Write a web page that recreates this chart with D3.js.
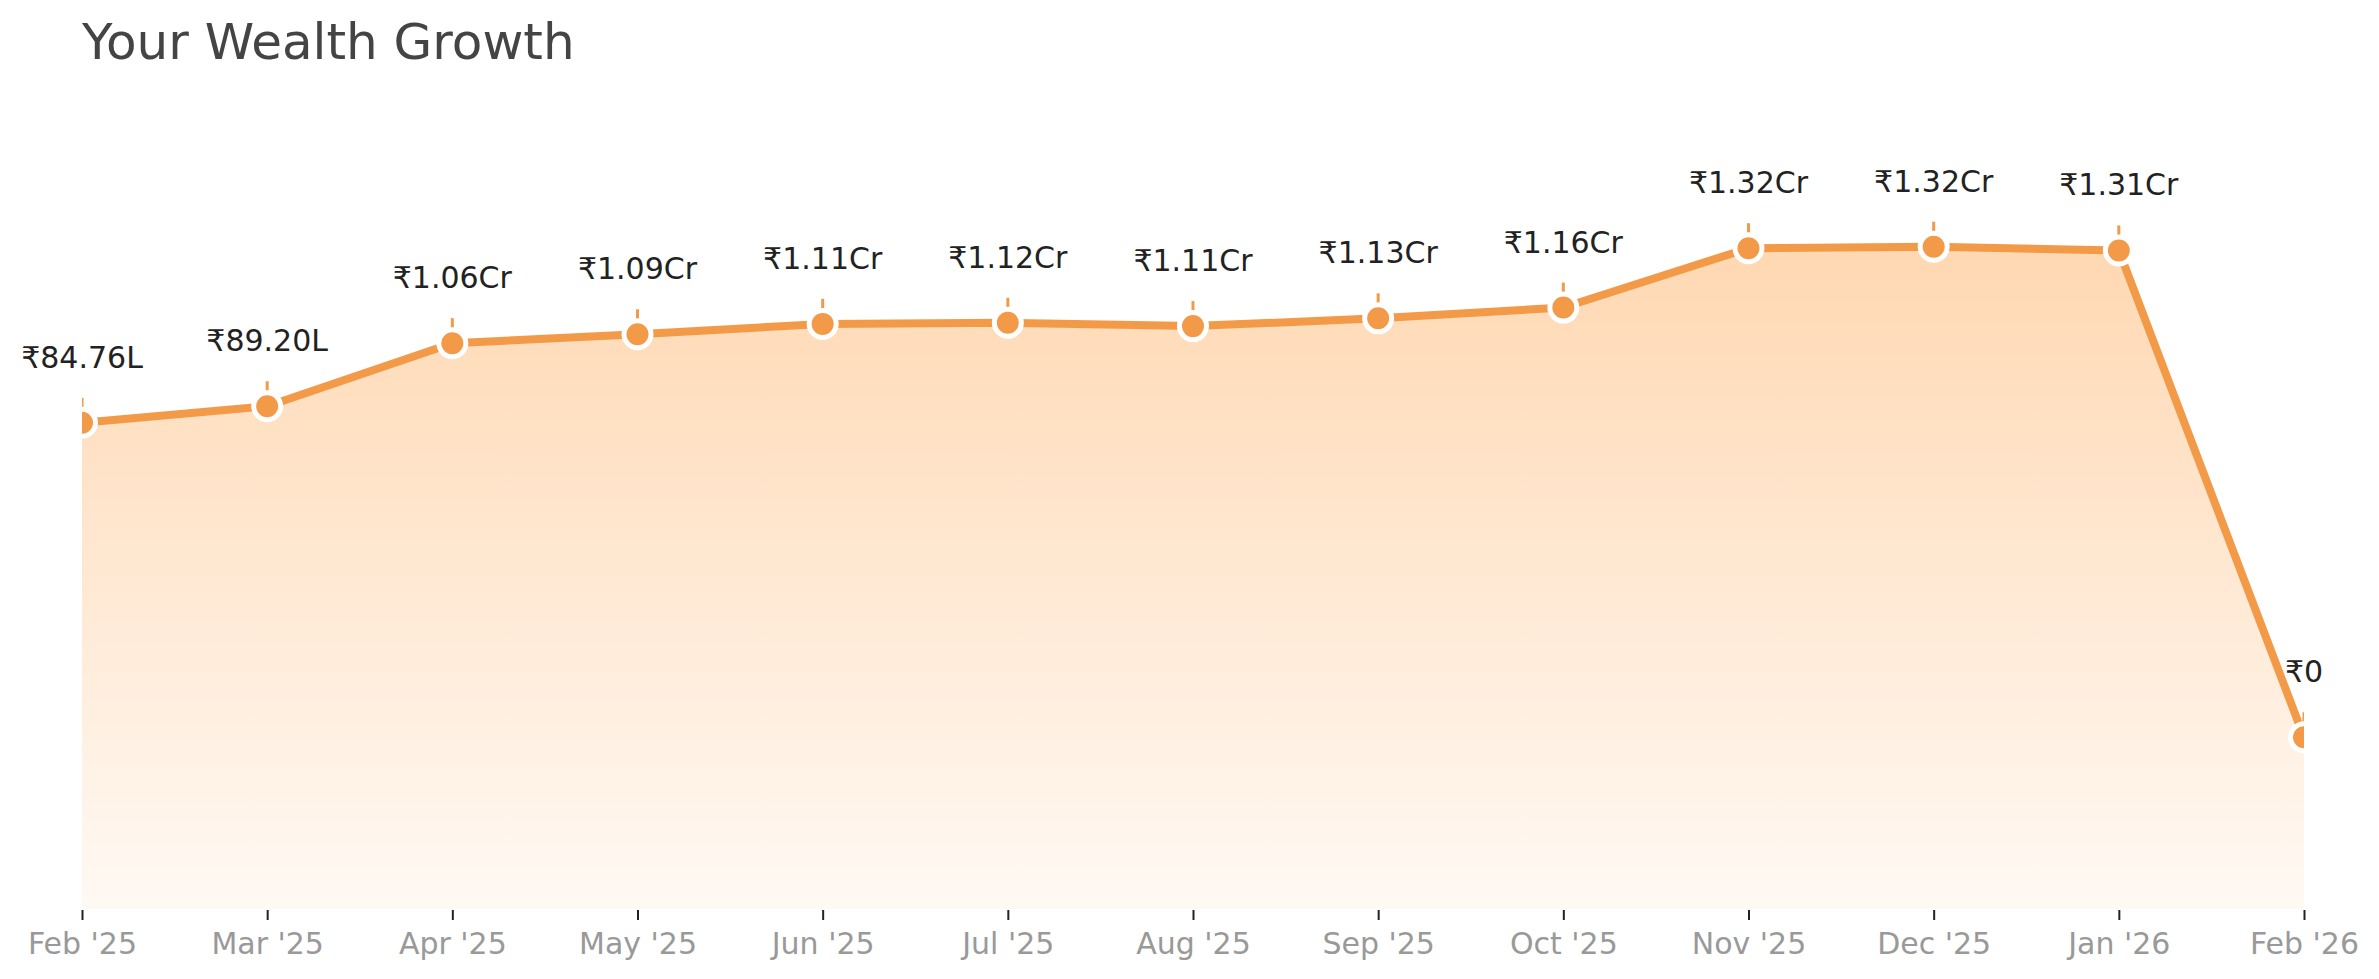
<!DOCTYPE html>
<html>
<head>
<meta charset="utf-8">
<script src="https://cdn.jsdelivr.net/npm/d3@7"></script>
<style>
  html, body { margin: 0; padding: 0; background: #fff; }
  svg { display: block; font-family: "DejaVu Sans", sans-serif; }
</style>
</head>
<body>
<svg id="chart" width="2379" height="979"></svg>
<script>
// ---- data ----
const title = "Your Wealth Growth";
const months = ["Feb '25", "Mar '25", "Apr '25", "May '25", "Jun '25", "Jul '25", "Aug '25", "Sep '25", "Oct '25", "Nov '25", "Dec '25", "Jan '26", "Feb '26"];
const wealth = [8476000, 8920000, 10620000, 10860000, 11140000, 11170000, 11080000, 11290000, 11580000, 13180000, 13220000, 13120000, 0];

// ---- layout ----
const W = 2379, H = 979;
const margin = { top: 75, right: 75, bottom: 70, left: 82 };
const plotBottom = H - margin.bottom;
const orange = "#F39A48";

const fmt = v => {
  if (v >= 1e7) return "₹" + (v / 1e7).toFixed(2) + "Cr";
  if (v >= 1e5) return "₹" + (v / 1e5).toFixed(2) + "L";
  return "₹" + v;
};

const svg = d3.select("#chart");

const x = d3.scalePoint().domain(months).range([margin.left, W - margin.right]);
const vMin = d3.min(wealth), vMax = d3.max(wealth), pad = (vMax - vMin) * 0.35;
const y = d3.scaleLinear().domain([vMin - pad, vMax + pad]).range([plotBottom, margin.top]);

const data = months.map((m, i) => ({ m, v: wealth[i] }));

const defs = svg.append("defs");
const grad = defs.append("linearGradient")
  .attr("id", "areaGrad")
  .attr("gradientUnits", "userSpaceOnUse")
  .attr("x1", 0).attr("x2", 0)
  .attr("y1", y(vMax)).attr("y2", plotBottom);
grad.append("stop").attr("offset", "0%").attr("stop-color", "#FFD8B2");
grad.append("stop").attr("offset", "100%").attr("stop-color", "#FFF9F4");

defs.append("clipPath").attr("id", "plotClip")
  .append("rect")
  .attr("x", margin.left).attr("y", 0)
  .attr("width", W - margin.left - margin.right)
  .attr("height", plotBottom);

// title
svg.append("text")
  .attr("x", margin.left).attr("y", 59)
  .attr("font-size", 50).attr("fill", "#444")
  .text(title);

const g = svg.append("g").attr("clip-path", "url(#plotClip)");

const area = d3.area().x(d => x(d.m)).y0(plotBottom).y1(d => y(d.v));
const line = d3.line().x(d => x(d.m)).y(d => y(d.v));

g.append("path").datum(data).attr("d", area).attr("fill", "url(#areaGrad)");
g.append("path").datum(data).attr("d", line)
  .attr("fill", "none").attr("stroke", orange).attr("stroke-width", 8)
  .attr("stroke-linejoin", "round");

// stems
g.selectAll("line.stem").data(data).join("line")
  .attr("class", "stem")
  .attr("x1", d => x(d.m)).attr("x2", d => x(d.m))
  .attr("y1", d => y(d.v)).attr("y2", d => y(d.v) - 25)
  .attr("stroke", orange).attr("stroke-width", 3);

// points
g.selectAll("circle").data(data).join("circle")
  .attr("cx", d => x(d.m)).attr("cy", d => y(d.v)).attr("r", 13.5)
  .attr("fill", orange).attr("stroke", "#fff").attr("stroke-width", 5);

// value labels
svg.append("g").selectAll("text").data(data).join("text")
  .attr("x", d => x(d.m)).attr("y", d => y(d.v) - 55)
  .attr("text-anchor", "middle")
  .attr("font-size", 30).attr("fill", "#222")
  .text(d => fmt(d.v));

// x axis
const ax = svg.append("g")
  .attr("transform", `translate(0,${plotBottom + 1})`)
  .call(d3.axisBottom(x).tickSize(10).tickPadding(13));
ax.select(".domain").remove();
ax.selectAll(".tick line").attr("stroke", "#222").attr("stroke-width", 2);
ax.selectAll(".tick text")
  .attr("font-size", 30).attr("fill", "#999")
  .attr("font-family", "DejaVu Sans, sans-serif");
</script>
</body>
</html>
